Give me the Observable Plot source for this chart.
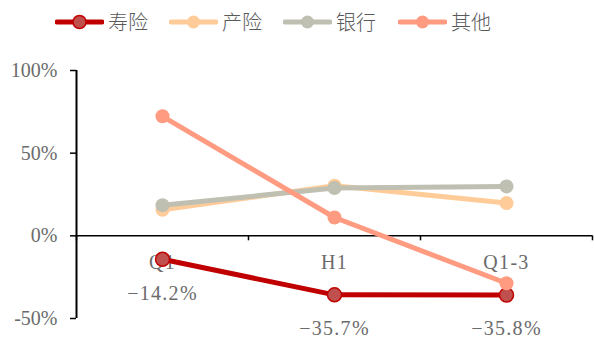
<!DOCTYPE html>
<html><head><meta charset="utf-8">
<script src="https://cdn.jsdelivr.net/npm/d3@7"></script>
<script src="https://cdn.jsdelivr.net/npm/@observablehq/plot@0.6"></script>
<style>
body{margin:0;background:#fff;width:594px;height:338px;overflow:hidden;}
#legend{position:relative;height:40px;}
.item{position:absolute;top:7px;display:flex;align-items:center;font-family:"Noto Sans CJK SC",sans-serif;font-size:20px;font-weight:300;color:#595959;}
.item svg{margin-right:4px;}
</style>
</head><body>
<div id="legend"></div>
<div id="chart"></div>
<script>
const categories = ["Q1", "H1", "Q1-3"];
const seriesNames = ["寿险", "产险", "银行", "其他"];
const shouxian = [-14.2, -35.7, -35.8];
const chanxian = [15.8, 30.3, 19.8];
const yinhang = [18.5, 28.9, 29.9];
const qita = [72.3, 11.1, -28.7];
const yTicks = [-50, 0, 50, 100];
const lineColors = ["#C00000", "#FFCC99", "#BFBFB2", "#FF9B80"];
const dotFills = ["#C0504D", "#FFCC99", "#BFBFB2", "#FF9B80"];

const seriesValues = [shouxian, chanxian, yinhang, qita];
const data = seriesValues.flatMap((vals, s) => vals.map((v, i) => ({series: seriesNames[s], s, i, x: i + 0.5, cat: categories[i], v})));
const labelData = shouxian.map((v, i) => ({x: i + 0.5, v}));
const catData = categories.map((c, i) => ({x: i + 0.5, c}));
const bounds = d3.range(categories.length + 1);

// legend
const lg = document.getElementById("legend");
const lefts = [55, 169, 283, 398];
seriesNames.forEach((n, s) => {
  const d = document.createElement("div");
  d.className = "item";
  d.style.left = lefts[s] + "px";
  d.innerHTML = `<svg width="49" height="16"><line x1="2" y1="8" x2="47" y2="8" stroke="${lineColors[s]}" stroke-width="5" stroke-linecap="round"/><circle cx="24.5" cy="8" r="6.5" fill="${dotFills[s]}" stroke="${lineColors[s]}" stroke-width="${s===0?1.5:0}"/></svg><span>${n}</span>`;
  lg.appendChild(d);
});

const numFont = "'Liberation Serif', serif";
const chart = Plot.plot({
  width: 594,
  height: 298,
  marginTop: 30,
  marginBottom: 20,
  marginLeft: 76,
  marginRight: 2,
  x: {domain: [0, categories.length], axis: null},
  y: {domain: [-50, 100]},
  style: {fontFamily: numFont, background: "#fff"},
  marks: [
    Plot.axisY({ticks: yTicks, tickFormat: d => d + "%", tickSize: 6, tickPadding: 13, fontSize: 20, fill: "#6b6b6b", stroke: "#000", strokeWidth: 1.5, label: null}),
    Plot.ruleX([0], {y1: -50, y2: 100, stroke: "#000", strokeWidth: 2}),
    Plot.ruleY([0], {stroke: "#000", strokeWidth: 1.5}),
    Plot.ruleX(bounds, {y1: 0, y2: -3, stroke: "#000", strokeWidth: 1.5}),
    Plot.text(catData, {x: "x", y: 0, dy: 27, text: "c", fontSize: 20, fill: "#6b6b6b"}),
    Plot.line(data, {x: "x", y: "v", z: "series", stroke: d => lineColors[d.s], strokeWidth: 5, sort: {channel: "x"}}),
    Plot.dot(data, {x: "x", y: "v", r: 7, fill: d => dotFills[d.s], stroke: d => d.s === 0 ? lineColors[0] : "none", strokeWidth: 1.5}),
    Plot.text(labelData, {x: "x", y: "v", dy: 34, text: d => "−" + Math.abs(d.v).toFixed(1) + "%", fontSize: 20, fill: "#6b6b6b"})
  ]
});
d3.select(chart).selectAll("g[aria-label='text'] text").style("letter-spacing", "1.3px");
document.getElementById("chart").appendChild(chart);
</script>
</body></html>
